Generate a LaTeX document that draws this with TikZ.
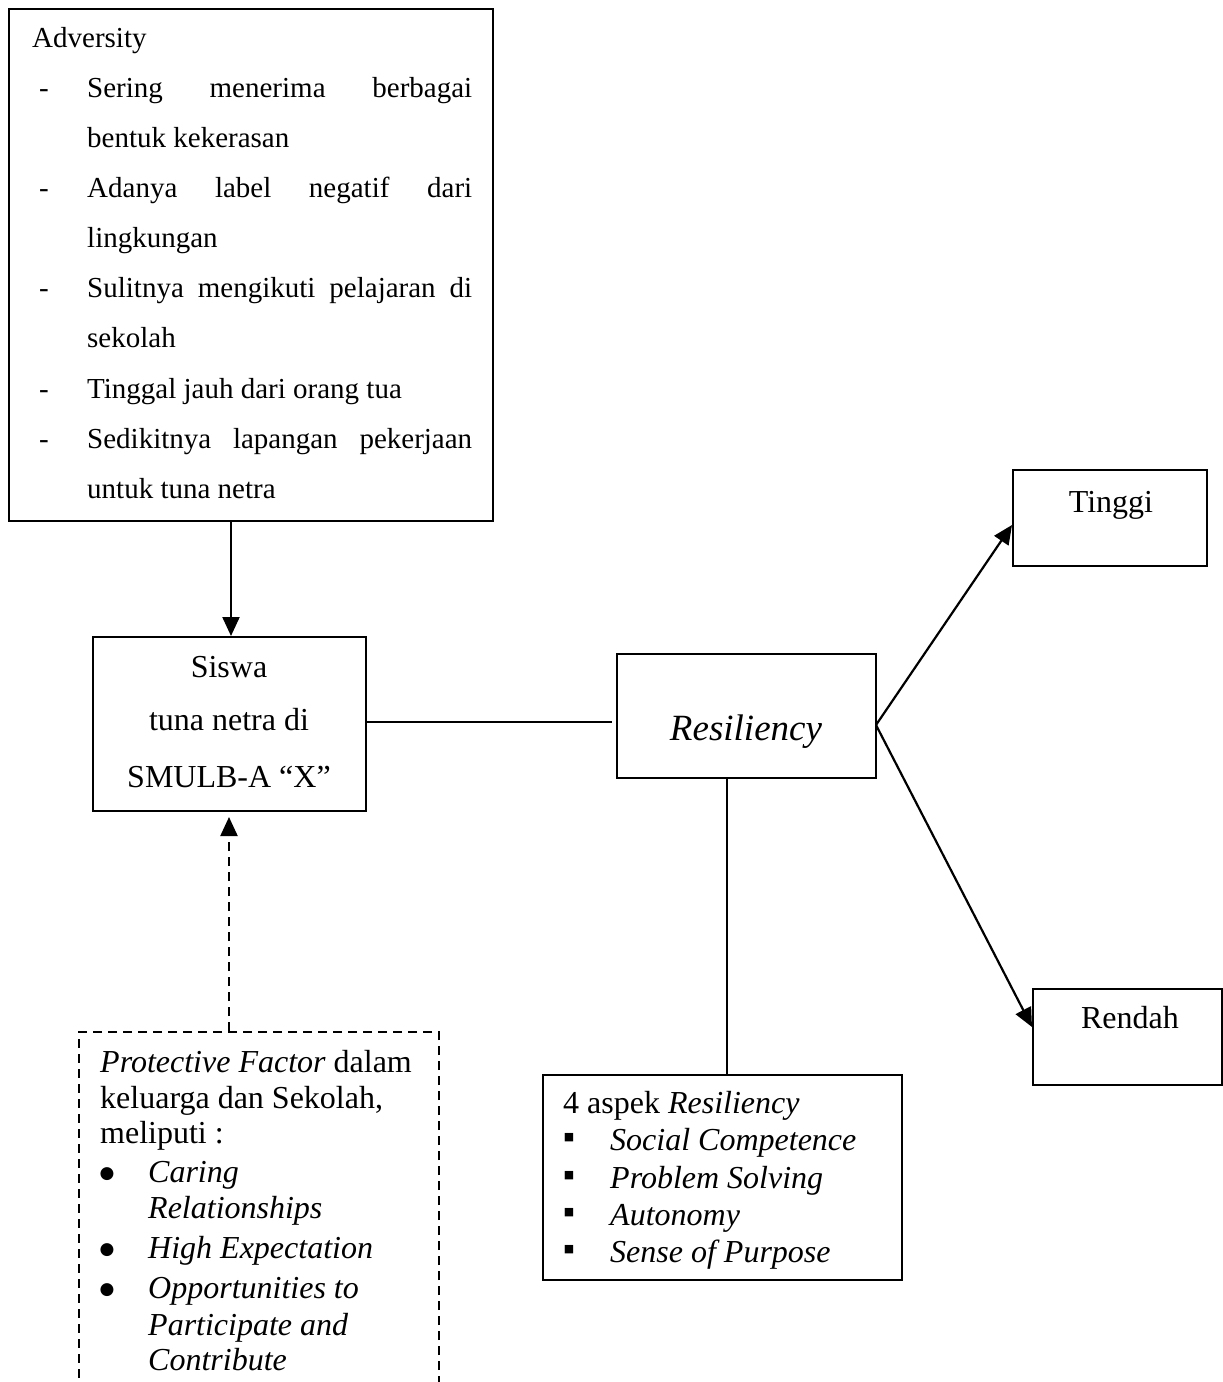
\documentclass[tikz,border=0pt]{standalone}
\usepackage{fontspec}
\setmainfont{Liberation Serif}
\newfontfamily\symfont{DejaVu Sans}
\usetikzlibrary{arrows.meta}
\begin{document}
\begin{tikzpicture}[x=1pt,y=-1pt,
  box/.style={draw, line width=2pt, inner sep=0pt},
  dbox/.style={draw, line width=2pt, dash pattern=on 9pt off 6pt, inner sep=0pt},
  atxt/.style={anchor=base west, inner sep=0pt, font=\fontsize{29}{34}\selectfont},
  txt/.style={anchor=base west, inner sep=0pt, font=\fontsize{32}{36}\selectfont},
  itxt/.style={txt, font=\fontsize{32}{36}\selectfont\itshape},
  ctxt/.style={anchor=base, inner sep=0pt, font=\fontsize{32}{36}\selectfont},
  conn/.style={line width=2.2pt},
  arr/.style={conn, -{Triangle[length=19pt,width=17pt]}},
  darr/.style={arr, dash pattern=on 9pt off 6pt},
  sq/.style={anchor=center, inner sep=0pt, font=\symfont\fontsize{11}{11}\selectfont},
  dot/.style={anchor=center, inner sep=0pt, font=\symfont\fontsize{17}{17}\selectfont},
]
\useasboundingbox (0,0) rectangle (1223,1382);
\clip (0,0) rectangle (1223,1382);
\fill[white] (0,0) rectangle (1223,1382);

% boxes
\node[box, minimum width=484pt, minimum height=512pt] (adv) at (251,265) {};
\node[box, minimum width=273pt, minimum height=174pt] (siswa) at (229.5,724) {};
\node[box, minimum width=259pt, minimum height=124pt] (res) at (746.5,716) {};
\node[box, minimum width=194pt, minimum height=96pt] (tinggi) at (1110,518) {};
\node[box, minimum width=189pt, minimum height=96pt] (rendah) at (1127.5,1037) {};
\node[box, minimum width=359pt, minimum height=205pt] (aspek) at (722.5,1177.5) {};
\node[dbox, minimum width=360pt, minimum height=368pt] (prot) at (259,1216) {};

% Adversity text
\node[atxt] (advt) at (32,47) {Adversity};
\foreach \yy/\nm in {97/d1,197/d2,297/d3,398/d4,448/d5}{
  \node[atxt] (\nm) at (39,\yy) {-};
}
\node[atxt] (a1) at (87,97) {\hbox to 385pt{Sering\hfill menerima\hfill berbagai}};
\node[atxt] (a2) at (87,147) {bentuk kekerasan};
\node[atxt] (a3) at (87,197) {\hbox to 385pt{Adanya\hfill label\hfill negatif\hfill dari}};
\node[atxt] (a4) at (87,247) {lingkungan};
\node[atxt] (a5) at (87,297) {\hbox to 385pt{Sulitnya\hfill mengikuti\hfill pelajaran\hfill di}};
\node[atxt] (a6) at (87,347) {sekolah};
\node[atxt] (a7) at (87,398) {Tinggal jauh dari orang tua};
\node[atxt] (a8) at (87,448) {\hbox to 385pt{Sedikitnya\hfill lapangan\hfill pekerjaan}};
\node[atxt] (a9) at (87,498) {untuk tuna netra};

% Siswa text
\node[ctxt] (s1) at (229,677) {Siswa};
\node[ctxt] (s2) at (229,730) {tuna netra di};
\node[ctxt] (s3) at (229,787) {SMULB-A “X”};

% Resiliency
\node[anchor=base, inner sep=0pt, font=\fontsize{37}{40}\selectfont\itshape] (rt) at (746,740) {Resiliency};

% Tinggi / Rendah
\node[ctxt] (tt) at (1111,512) {Tinggi};
\node[ctxt] (rdt) at (1130,1028) {Rendah};

% Aspek
\node[txt] (p0) at (563,1113) {4 aspek \textit{Resiliency}};
\foreach \yy/\nm/\tx in {1150/q1/Social Competence,1188/q2/Problem Solving,1225/q3/Autonomy,1262/q4/Sense of Purpose}{
  \node[sq] (b\nm) at (569,\yy-12) {■};
  \node[itxt] (\nm) at (610,\yy) {\tx};
}

% Protective
\node[txt] (r1) at (100,1072) {\textit{Protective Factor} dalam};
\node[txt] (r2) at (100,1108) {keluarga dan Sekolah,};
\node[txt] (r3) at (100,1143) {meliputi :};
\foreach \yy/\nm in {1182/c1,1258/c2,1298/c3}{
  \node[dot] (\nm) at (107,\yy-8) {●};
}
\node[itxt] (i1) at (148,1182) {Caring};
\node[itxt] (i2) at (148,1218) {Relationships};
\node[itxt] (i3) at (148,1258) {High Expectation};
\node[itxt] (i4) at (148,1298) {Opportunities to};
\node[itxt] (i5) at (148,1335) {Participate and};
\node[itxt] (i6) at (148,1370) {Contribute};

% connectors
\coordinate (ax) at (231,0);
\draw[arr] (adv.south -| ax) -- (siswa.north -| ax);
\coordinate (lend) at (612,0);
\draw[conn] (siswa.east |- 0,722) -- (lend |- 0,722);
\coordinate (fork) at (876,725);
\draw[arr] (fork) -- ([yshift=-7pt]tinggi.west);
\draw[arr] (fork) -- ([yshift=10pt]rendah.west);
\coordinate (vx) at (727,0);
\draw[conn] (res.south -| vx) -- (aspek.north -| vx);
\coordinate (dx) at (229,0);
\draw[darr] (prot.north -| dx) -- ([yshift=-5pt]siswa.south -| dx);
\end{tikzpicture}
\end{document}
